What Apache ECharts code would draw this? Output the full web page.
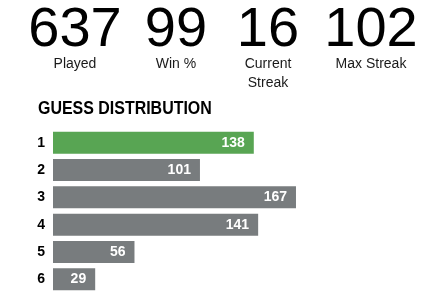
<!DOCTYPE html>
<html>
<head>
<meta charset="utf-8">
<script src="https://cdn.jsdelivr.net/npm/echarts@6/dist/echarts.min.js"></script>
<style>
  html, body { margin: 0; padding: 0; background: #fff; }
  #chart { width: 429px; height: 308px; }
</style>
</head>
<body>
<div id="chart"></div>
<script>
// stats row
const statValues = ['637', '99', '16', '102'];
const statLabels = ['Played', 'Win %', 'Current\nStreak', 'Max Streak'];
const statCenters = [75, 176, 268, 371];

// guess distribution
const guesses = ['1', '2', '3', '4', '5', '6'];
const counts = [138, 101, 167, 141, 56, 29];
const lastGuess = '1';

const GREEN = '#58a553';
const GRAY = '#787c7e';

const chart = echarts.init(document.getElementById('chart'));

// header texts
const graphics = [];
statValues.forEach((v, i) => {
  graphics.push({
    type: 'text',
    x: statCenters[i],
    y: 31,
    style: {
      text: v,
      fontFamily: 'Liberation Sans',
      fontSize: 56,
      fill: '#000',
      align: 'center',
      verticalAlign: 'middle'
    }
  });
  graphics.push({
    type: 'text',
    x: statCenters[i],
    y: 55,
    style: {
      text: statLabels[i],
      fontFamily: 'Liberation Sans',
      fontSize: 14,
      lineHeight: 19,
      fill: '#1a1a1a',
      align: 'center',
      verticalAlign: 'top'
    }
  });
});
// condensed bold heading: squeeze a regular bold face
graphics.push({
  type: 'text',
  x: 38,
  y: 109,
  scaleX: 0.84,
  style: {
    text: 'GUESS DISTRIBUTION',
    fontFamily: 'Liberation Sans',
    fontWeight: 'bold',
    fontSize: 19,
    fill: '#000',
    align: 'left',
    verticalAlign: 'middle'
  }
});

const option = {
  animation: false,
  backgroundColor: '#fff',
  graphic: graphics,
  grid: { left: 53, top: 129, width: 291, height: 164, containLabel: false },
  xAxis: {
    type: 'value',
    min: 0,
    max: 200,
    show: false
  },
  yAxis: {
    type: 'category',
    data: guesses,
    inverse: true,
    axisLine: { show: false },
    axisTick: { show: false },
    axisLabel: {
      margin: 8,
      color: '#000',
      fontFamily: 'Liberation Sans',
      fontWeight: 'bold',
      fontSize: 14
    }
  },
  series: [{
    type: 'bar',
    barWidth: 22,
    data: counts.map((c, i) => ({
      value: c,
      itemStyle: { color: guesses[i] === lastGuess ? GREEN : GRAY }
    })),
    label: {
      show: true,
      position: 'insideRight',
      distance: 9,
      color: '#fff',
      fontFamily: 'Liberation Sans',
      fontWeight: 'bold',
      fontSize: 14
    }
  }]
};

chart.setOption(option);
window.addEventListener('resize', () => chart.resize());
</script>
</body>
</html>
